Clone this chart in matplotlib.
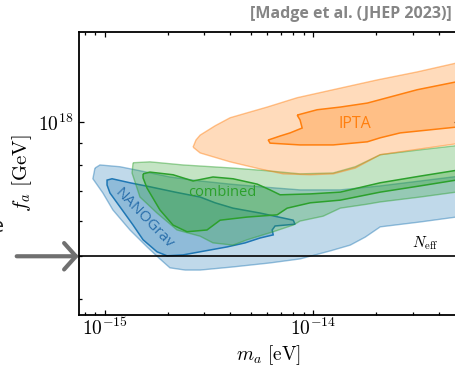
import numpy as np
import matplotlib
matplotlib.use("Agg")
import matplotlib.pyplot as plt
from matplotlib.ticker import LogLocator, NullFormatter, FuncFormatter, FixedLocator

plt.rcParams["mathtext.fontset"] = "cm"

# Credible-region boundaries, as log10(m_a / eV) and log10(f_a / GeV)
nano_2s_lm = [-15.048, -15.024, -14.928, -14.832, -14.688, -14.543, -14.399, -14.255,
              -14.063, -13.870, -13.678, -13.486, -13.245, -13.245, -13.313, -13.486,
              -13.678, -13.750, -13.822, -13.918, -14.063, -14.207, -14.385, -14.543,
              -14.615, -14.688, -14.736, -14.798, -14.880, -14.962, -15.010, -15.058]
nano_2s_lf = [17.897, 17.904, 17.900, 17.891, 17.877, 17.868, 17.861, 17.855,
              17.848, 17.848, 17.857, 17.868, 17.882, 17.796, 17.787, 17.776,
              17.765, 17.742, 17.724, 17.711, 17.693, 17.684, 17.675, 17.668,
              17.668, 17.673, 17.693, 17.720, 17.758, 17.803, 17.841, 17.873]

nano_1s_lm = [-14.990, -14.966, -14.880, -14.784, -14.663, -14.543, -14.471, -14.385,
              -14.255, -14.096, -14.087, -14.183, -14.197, -14.192, -14.255, -14.327,
              -14.413, -14.543, -14.625, -14.702, -14.750, -14.817, -14.865, -14.928,
              -14.976, -14.990]
nano_1s_lf = [17.870, 17.873, 17.864, 17.855, 17.843, 17.832, 17.819, 17.807,
              17.796, 17.780, 17.771, 17.767, 17.758, 17.747, 17.740, 17.729,
              17.720, 17.709, 17.702, 17.700, 17.709, 17.736, 17.769, 17.810,
              17.841, 17.859]

comb_2s_lm = [-14.865, -14.784, -14.625, -14.385, -14.221, -14.063, -13.904, -13.798,
              -13.678, -13.486, -13.245, -13.245, -13.313, -13.486, -13.678, -13.740,
              -13.870, -13.952, -14.063, -14.096, -14.192, -14.317, -14.385, -14.481,
              -14.543, -14.654, -14.750, -14.832, -14.870]
comb_2s_lf = [17.909, 17.911, 17.904, 17.897, 17.891, 17.884, 17.886, 17.900,
              17.927, 17.938, 17.951, 17.848, 17.843, 17.832, 17.821, 17.816,
              17.807, 17.789, 17.778, 17.769, 17.754, 17.736, 17.724, 17.729,
              17.744, 17.758, 17.796, 17.832, 17.886]

comb_1s_lm = [-14.817, -14.784, -14.673, -14.577, -14.481, -14.385, -14.269, -14.207,
              -14.159, -14.014, -13.870, -13.678, -13.486, -13.245, -13.245, -13.313,
              -13.486, -13.678, -13.870, -14.014, -14.125, -14.173, -14.317, -14.447,
              -14.510, -14.606, -14.673, -14.736, -14.798, -14.817]
comb_1s_lf = [17.884, 17.888, 17.882, 17.868, 17.877, 17.873, 17.861, 17.848,
              17.837, 17.839, 17.843, 17.864, 17.879, 17.897, 17.875, 17.870,
              17.857, 17.843, 17.825, 17.819, 17.807, 17.792, 17.787, 17.780,
              17.758, 17.754, 17.769, 17.803, 17.852, 17.875]

ipta_2s_lm = [-14.577, -14.563, -14.543, -14.471, -14.399, -14.303, -14.221, -14.077,
              -13.904, -13.692, -13.500, -13.245, -13.245, -13.486, -13.678, -13.798,
              -13.904, -14.014, -14.144, -14.255, -14.399, -14.543]
ipta_2s_lf = [17.944, 17.960, 17.971, 17.992, 18.010, 18.023, 18.034, 18.055,
              18.073, 18.095, 18.113, 18.140, 17.956, 17.940, 17.927, 17.897,
              17.884, 17.882, 17.884, 17.895, 17.911, 17.931]

ipta_1s_lm = [-14.077, -13.981, -13.870, -13.740, -13.500, -13.245, -13.245, -13.313,
              -13.582, -13.678, -13.740, -13.904, -14.063, -14.207, -14.216, -14.159,
              -14.111, -14.053, -14.063]
ipta_1s_lf = [18.016, 18.028, 18.034, 18.043, 18.073, 18.097, 17.994, 17.989,
              17.976, 17.965, 17.956, 17.949, 17.949, 17.953, 17.960, 17.969,
              17.976, 17.987, 18.005]

# N_eff bound on f_a [GeV]
f_neff = 5.0e17

# Axis ranges and labelled ticks
m_range = (7.48e-16, 5.0e-14)
f_range = (3.69e17, 1.592e18)
m_ticks = [1e-15, 1e-14]
f_ticks = [1e18]

BLUE, GREEN, ORANGE = "#1f77b4", "#2ca02c", "#ff7f0e"

fig = plt.figure(figsize=(4.56, 3.69), dpi=100)
ax = fig.add_axes([0.1726, 0.1463, 0.8334, 0.7662])
ax.set_xscale("log")
ax.set_yscale("log")


def region(lm_out, lf_out, lm_in, lf_in, color, z):
    xo, yo = 10 ** np.array(lm_out), 10 ** np.array(lf_out)
    xi, yi = 10 ** np.array(lm_in), 10 ** np.array(lf_in)
    ax.fill(xo, yo, facecolor=color, alpha=0.28, lw=0, zorder=z)
    ax.fill(xo, yo, facecolor="none", edgecolor=color, alpha=0.45, lw=1.0, zorder=z + 0.1)
    ax.fill(xi, yi, facecolor=color, alpha=0.3, lw=0, zorder=z + 0.2)
    ax.fill(xi, yi, facecolor="none", edgecolor=color, lw=1.1, zorder=z + 0.3)


region(nano_2s_lm, nano_2s_lf, nano_1s_lm, nano_1s_lf, BLUE, 1)
region(comb_2s_lm, comb_2s_lf, comb_1s_lm, comb_1s_lf, GREEN, 2)
region(ipta_2s_lm, ipta_2s_lf, ipta_1s_lm, ipta_1s_lf, ORANGE, 3)

ax.axhline(f_neff, color="black", lw=1.2, zorder=5)
ax.text(10 ** -13.462, 5.36e17, r"$N_{\rm eff}$", fontsize=11, ha="center",
        va="center", zorder=6)

lab = dict(family="Open Sans", ha="center", va="center", zorder=6)
ax.text(10 ** -13.798, 9.9e17, "IPTA", color=ORANGE, fontsize=11.5, **lab)
ax.text(10 ** -14.4375, 6.97e17, "combined", color=GREEN, fontsize=10.5, **lab)
ax.text(10 ** -14.8125, 6.07e17, "NANOGrav", color="#2a6fab", fontsize=11,
        rotation=-46, **lab)

ax.set_xlim(*m_range)
ax.set_ylim(*f_range)

sci = FuncFormatter(lambda v, p: r"$10^{%d}$" % int(round(np.log10(v))))
ax.xaxis.set_major_locator(FixedLocator(m_ticks))
ax.xaxis.set_major_formatter(sci)
ax.xaxis.set_minor_locator(LogLocator(base=10, subs=np.arange(2, 10)))
ax.xaxis.set_minor_formatter(NullFormatter())
ax.yaxis.set_major_locator(FixedLocator(f_ticks))
ax.yaxis.set_major_formatter(sci)
ax.yaxis.set_minor_locator(LogLocator(base=10, subs=np.arange(2, 10)))
ax.yaxis.set_minor_formatter(NullFormatter())

ax.tick_params(which="both", direction="in", top=True, right=True, width=0.9,
               labelsize=14)
ax.tick_params(axis="x", which="both", pad=2)
ax.tick_params(axis="y", which="both", pad=4)
ax.tick_params(which="major", length=3.8)
ax.tick_params(which="minor", length=2.2)
for s in ax.spines.values():
    s.set_linewidth(1.3)

ax.set_xlabel(r"$m_a\ [\mathrm{eV}]$", fontsize=14, labelpad=3)
ax.set_ylabel(r"$f_a\ [\mathrm{GeV}]$", fontsize=15, labelpad=3)

fig.text(452 / 456, 1 - 14 / 369, "[Madge et al. (JHEP 2023)]", family="Open Sans",
         fontweight="bold", color="#858585", fontsize=11.5, ha="right", va="center")

# pointer onto the N_eff line
ax.annotate("", xy=(0, f_neff), xycoords=ax.get_yaxis_transform(),
            xytext=(-62, 0), textcoords="offset pixels",
            arrowprops=dict(arrowstyle="->,head_length=0.85,head_width=0.95",
                            color="#707070", lw=3.0, mutation_scale=10,
                            shrinkA=0, shrinkB=0),
            annotation_clip=False)

fig.text(4 / 456, 1 - 226 / 369, "e", fontsize=14, ha="right", va="center",
         color="#222222")

fig.savefig("out.png", dpi=100)
